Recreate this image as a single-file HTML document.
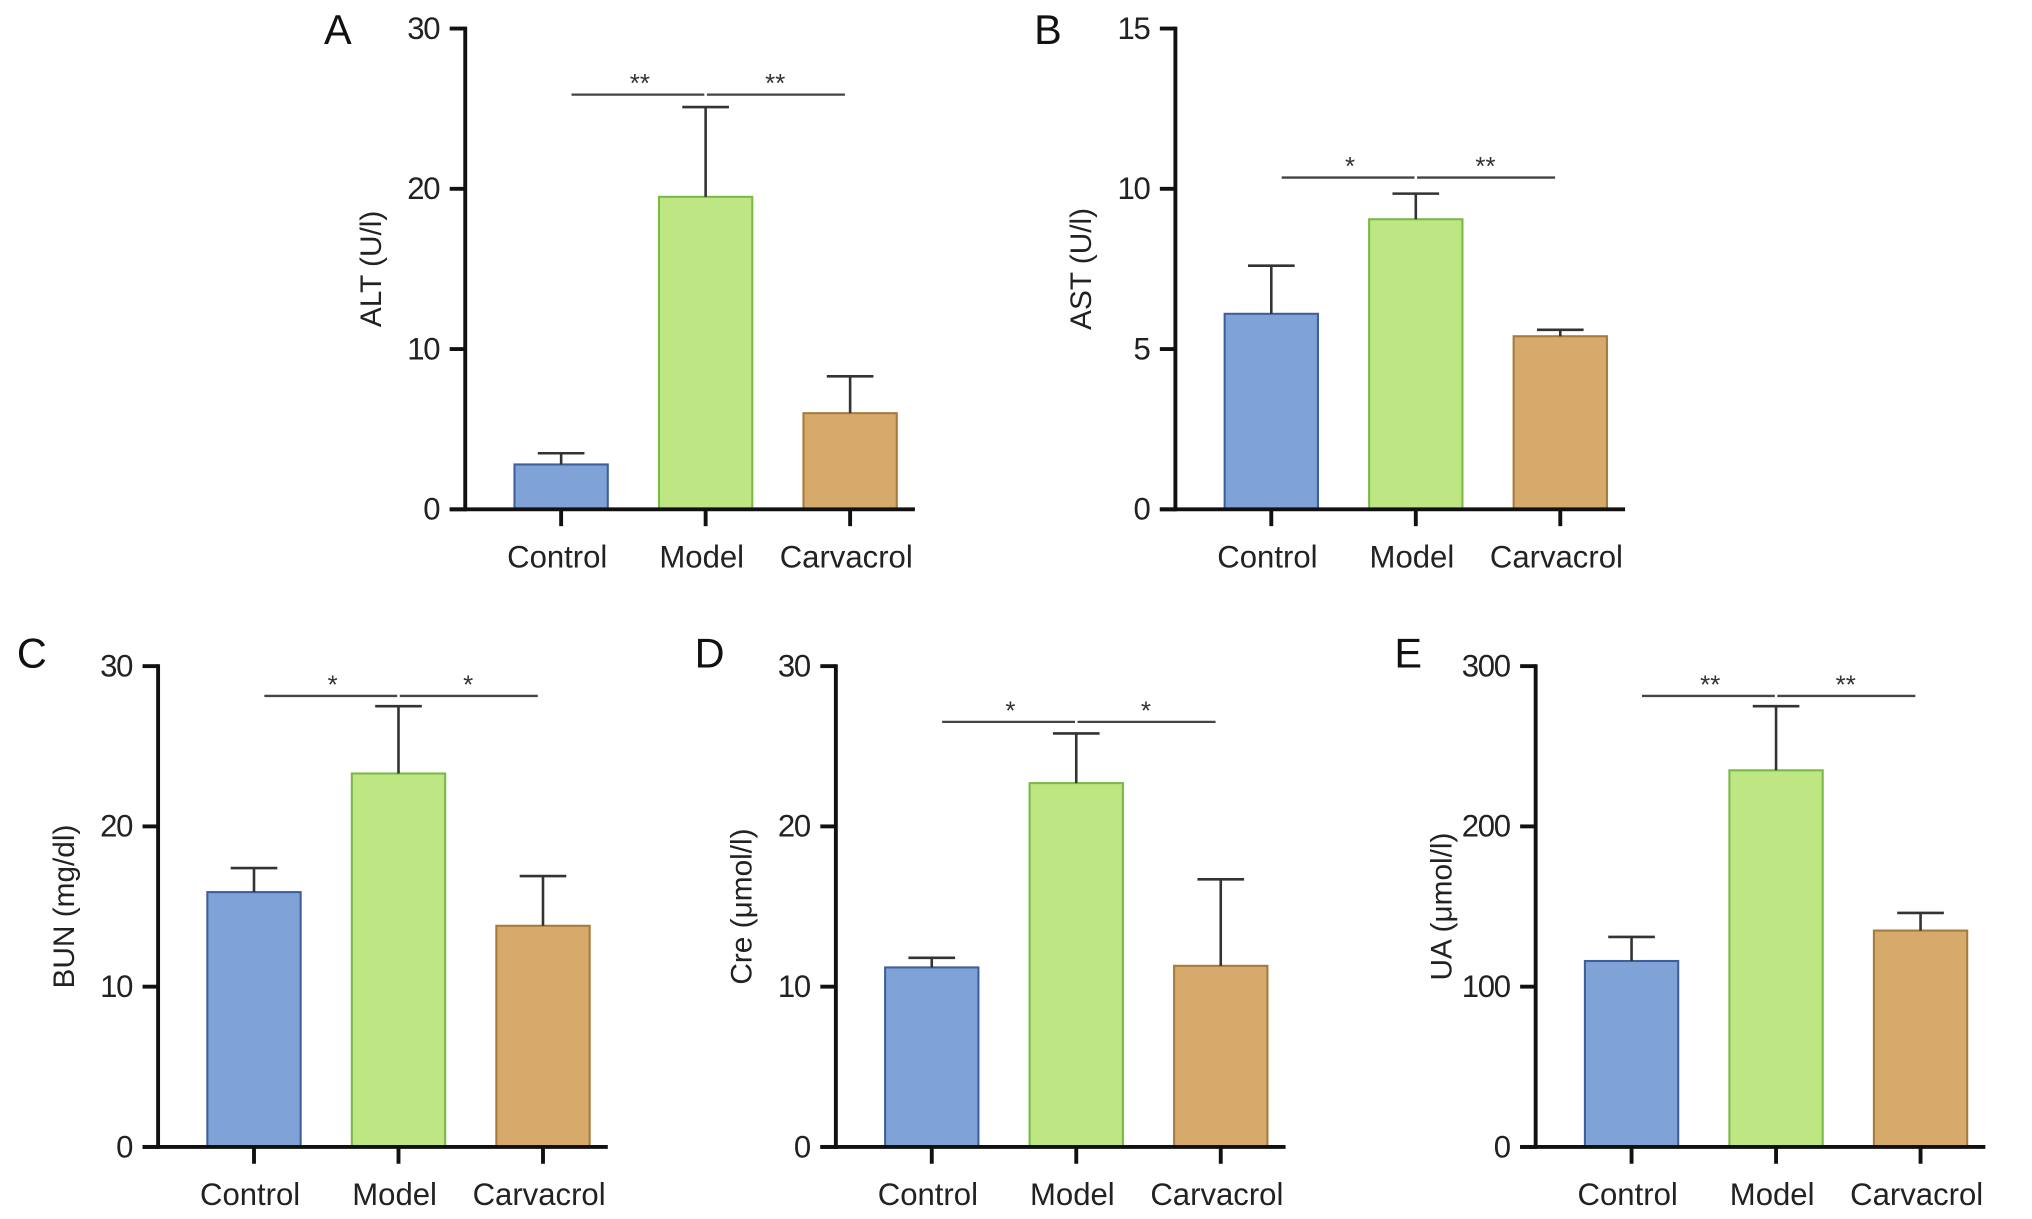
<!DOCTYPE html>
<html><head><meta charset="utf-8"><style>
html,body{margin:0;padding:0;background:#fff;}
svg{display:block;font-family:"Liberation Sans",Arial,sans-serif;}
</style></head><body>
<svg id="fig" width="2032" height="1219" viewBox="0 0 1568 940.6" xmlns="http://www.w3.org/2000/svg"></svg>
<script>
const categories = ["Control","Model","Carvacrol"];
const aValues = [2.8, 19.5, 6.0];
const aErrors = [3.5, 25.1, 8.3];
const bValues = [6.1, 9.05, 5.4];
const bErrors = [7.6, 9.85, 5.6];
const cValues = [15.9, 23.3, 13.8];
const cErrors = [17.4, 27.5, 16.9];
const dValues = [11.2, 22.7, 11.3];
const dErrors = [11.8, 25.8, 16.7];
const eValues = [116, 235, 135];
const eErrors = [131, 275, 146];
const aTicks = [0,10,20,30];
const bTicks = [0,5,10,15];
const cTicks = [0,10,20,30];
const dTicks = [0,10,20,30];
const eTicks = [0,100,200,300];

const panels = [
 {id:"a",letter:"A",title:"ALT (U/l)",ax:359,top:22,bot:393,max:30,ticks:aTicks,vals:aValues,errs:aErrors,sigY:73,sig:["**","**"],ly:34},
 {id:"b",letter:"B",title:"AST (U/l)",ax:907,top:22,bot:393,max:15,ticks:bTicks,vals:bValues,errs:bErrors,sigY:137,sig:["*","**"],ly:34},
 {id:"c",letter:"C",title:"BUN (mg/dl)",ax:122,top:514,bot:885,max:30,ticks:cTicks,vals:cValues,errs:cErrors,sigY:537,sig:["*","*"],ly:515},
 {id:"d",letter:"D",title:"Cre (μmol/l)",ax:645,top:514,bot:885,max:30,ticks:dTicks,vals:dValues,errs:dErrors,sigY:557,sig:["*","*"],ly:515},
 {id:"e",letter:"E",title:"UA (μmol/l)",ax:1185,top:514,bot:885,max:300,ticks:eTicks,vals:eValues,errs:eErrors,sigY:537,sig:["**","**"],ly:515}
];
const fills=["#7fa2d7","#bee783","#d5aa6a"];
const strokes=["#3f5f9c","#79b946","#a67a3c"];
const NS="http://www.w3.org/2000/svg";
const svg=document.getElementById("fig");
function mk(tag,attrs,parent){const e=document.createElementNS(NS,tag);for(const k in attrs)e.setAttribute(k,attrs[k]);(parent||svg).appendChild(e);return e;}
panels.forEach(p=>{
  const g=mk("g",{});
  
  
  const y=v=>p.bot-(v/p.max)*(p.bot-p.top);
  const xc=i=>p.ax+74+i*111.5;
  const L=mk("text",{x:p.ax-109,y:p.ly,"font-size":32,fill:"#111"},g);L.textContent=p.letter;
  
  
  p.vals.forEach((v,i)=>{
    const r=mk("rect",{x:xc(i)-36,y:y(v),width:72,height:p.bot-y(v),fill:fills[i],stroke:strokes[i],"stroke-width":1.6},g);
    
    
    const e=mk("path",{d:`M${xc(i)},${y(v)}V${y(p.errs[i])}M${xc(i)-18},${y(p.errs[i])}H${xc(i)+18}`,stroke:"#333","stroke-width":2,fill:"none"},g);
    
    
  });
  const ya=mk("path",{d:`M${p.ax},${p.top-1.5}V${p.bot+1.5}`,stroke:"#111","stroke-width":3},g);
  
  
  const xa=mk("path",{d:`M${p.ax-12},${p.bot}H${p.ax+347}`,stroke:"#111","stroke-width":3},g);
  
  
  p.ticks.forEach(t=>{
    mk("path",{d:`M${p.ax-12},${y(t)}H${p.ax}`,stroke:"#111","stroke-width":3},g);
    const tl=mk("text",{x:p.ax-20,y:y(t)+8,"font-size":24,"text-anchor":"end",fill:"#222","letter-spacing":"-1"},g);tl.textContent=t;
    
    
  });
  categories.forEach((c,i)=>{
    mk("path",{d:`M${xc(i)},${p.bot}V${p.bot+13}`,stroke:"#111","stroke-width":3},g);
    const xl=mk("text",{x:xc(i)-3,y:p.bot+45,"font-size":24,"text-anchor":"middle",fill:"#222"},g);xl.textContent=c;
    
    
  });
  const yt=mk("text",{transform:`translate(${p.ax-65},${(p.top+p.bot)/2}) rotate(-90)`,"font-size":23,"text-anchor":"middle",fill:"#222"},g);yt.textContent=p.title;
  
  
  const m=xc(1);
  const s1=mk("path",{d:`M${xc(0)+8},${p.sigY}H${m-1}M${m+1},${p.sigY}H${xc(2)-4}`,stroke:"#444","stroke-width":1.8},g);
  
  
  [[ (xc(0)+m)/2+5, p.sig[0]],[(m+xc(2))/2-2, p.sig[1]]].forEach(([sx,st])=>{
    const s=mk("text",{x:sx,y:p.sigY-2,"font-size":20,"text-anchor":"middle",fill:"#333"},g);s.textContent=st;
    
    
  });
});
</script>
</body></html>
